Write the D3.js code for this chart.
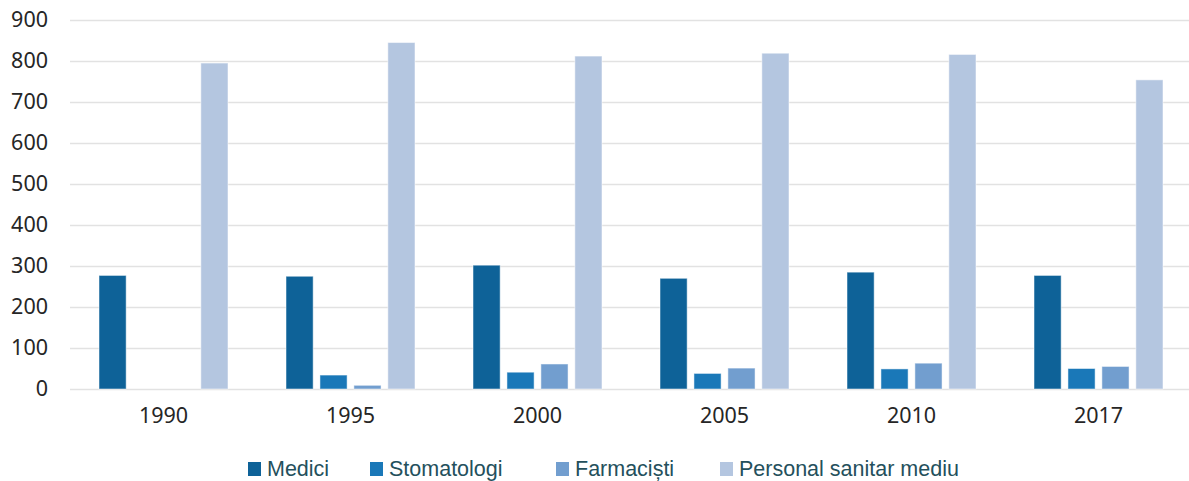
<!DOCTYPE html>
<html>
<head>
<meta charset="utf-8">
<script src="https://cdn.jsdelivr.net/npm/d3@7"></script>
<style>
  body { margin: 0; background: #fff; }
  svg { display: block; }
</style>
</head>
<body>
<svg id="chart" width="1189" height="481"></svg>
<script>
// data
var years = ["1990", "1995", "2000", "2005", "2010", "2017"];
var seriesNames = ["Medici", "Stomatologi", "Farmaciști", "Personal sanitar mediu"];
var medici = [277, 275, 302, 270, 285, 277];
var stomatologi = [null, 34, 41, 38, 49, 50];
var farmacisti = [null, 9, 61, 51, 63, 55];
var personal = [795, 845, 812, 819, 816, 754];
var yTicks = [0, 100, 200, 300, 400, 500, 600, 700, 800, 900];
var colours = ["#0e6298", "#1a78b8", "#729ecf", "#b4c6e0"];

var seriesValues = [medici, stomatologi, farmacisti, personal];

var rows = years.map(function (y, i) {
  return {
    year: y,
    values: seriesNames.map(function (s, j) {
      return {name: s, value: seriesValues[j][i]};
    })
  };
});

var svg = d3.select("#chart"),
    margin = {top: 20, left: 70},
    plotRight = 1192;

var x0 = d3.scaleBand().domain(years).range([margin.left, plotRight]);
var x1 = d3.scaleBand().domain(seriesNames)
           .range([29, x0.bandwidth() - 29])
           .paddingInner(0.2);
var y = d3.scaleLinear().domain([0, 900]).range([389, 20]);
var colour = d3.scaleOrdinal().domain(seriesNames).range(colours);

// gridlines
svg.append("g")
   .attr("class", "grid")
   .attr("transform", `translate(${margin.left},0)`)
   .call(d3.axisLeft(y).tickValues(yTicks).tickSize(-(plotRight - margin.left)).tickFormat(""))
   .call(g => g.select(".domain").remove())
   .call(g => g.selectAll("line").attr("stroke", "#e2e2e2").attr("stroke-width", 1.6));

// y axis labels
svg.append("g")
   .attr("transform", "translate(48,0)")
   .call(d3.axisLeft(y).tickValues(yTicks).tickSize(0).tickPadding(0))
   .call(g => g.select(".domain").remove())
   .call(g => g.selectAll("text")
               .attr("font-family", "Noto Sans, sans-serif")
               .attr("font-size", 21.5)
               .attr("fill", "#262626"));

// bars
var group = svg.selectAll(".year")
   .data(rows)
   .enter().append("g")
   .attr("class", "year")
   .attr("transform", d => `translate(${x0(d.year)},0)`);

group.selectAll("rect")
   .data(d => d.values.filter(v => v.value != null))
   .enter().append("rect")
   .attr("x", d => x1(d.name))
   .attr("y", d => y(d.value))
   .attr("width", x1.bandwidth())
   .attr("height", d => y(0) - y(d.value))
   .attr("fill", d => colour(d.name))
   .attr("stroke", "#ffffff")
   .attr("stroke-opacity", 0.5)
   .attr("stroke-width", 1);

// x axis labels
svg.append("g")
   .attr("transform", "translate(0,389)")
   .call(d3.axisBottom(x0).tickSize(0).tickPadding(19))
   .call(g => g.select(".domain").remove())
   .call(g => g.selectAll("text")
               .attr("font-family", "Noto Sans, sans-serif")
               .attr("font-size", 21.5)
               .attr("fill", "#262626"));

// legend
var legendX = [248, 370, 556, 720];
var legend = svg.append("g");
seriesNames.forEach(function (name, i) {
  var item = legend.append("g").attr("transform", `translate(${legendX[i]},0)`);
  item.append("rect")
      .attr("x", 0).attr("y", 462)
      .attr("width", 13).attr("height", 14)
      .attr("fill", colour(name));
  item.append("text")
      .attr("x", 19).attr("y", 476)
      .attr("font-family", "Liberation Sans, Arial, sans-serif")
      .attr("font-size", 21.5)
      .attr("fill", "#24505c")
      .text(name);
});
</script>
</body>
</html>
